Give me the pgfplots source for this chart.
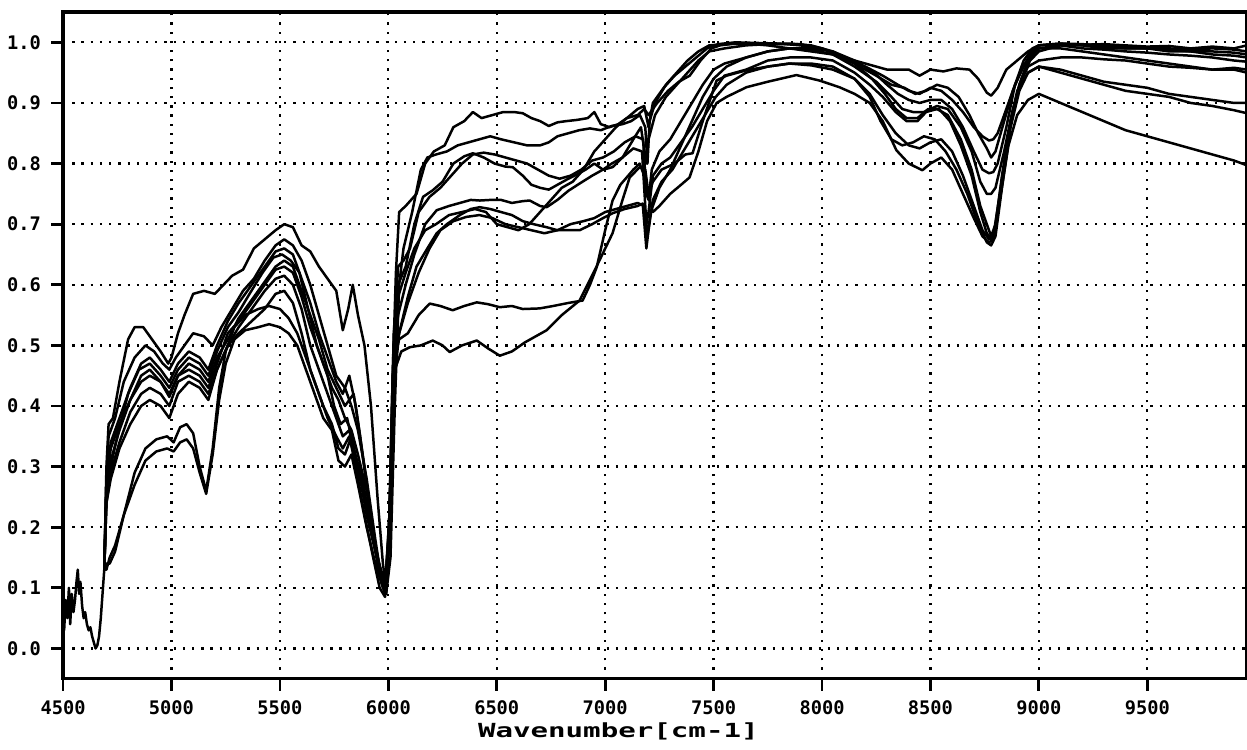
\documentclass[border=0pt]{standalone}
\usepackage{fontspec}
\setmainfont{DejaVu Sans Mono}
\usepackage{graphicx}
\usepackage{pgfplots}
\pgfplotsset{compat=1.18}
\usetikzlibrary{calc}

\begin{document}
\begin{tikzpicture}
\begin{axis}[
    scale only axis,
    width=16.71cm, height=9.41cm,
    xmin=4500, xmax=9960,
    ymin=-0.05, ymax=1.05,
    xtick={4500,5000,...,9500},
    ytick={0,0.1,...,1.0},
    minor tick num=0,
    tick align=outside,
    major tick length=0.17cm,
    tick style={line width=1.1pt, black},
    xtick pos=bottom, ytick pos=left,
    axis line style={line width=1.3pt},
    grid=major,
    major grid style={black, line width=0.9pt, dash pattern=on 0.9pt off 2.8pt},
    /pgf/number format/assume math mode=true,
    ticklabel style={font=\fontsize{7.5}{8}\selectfont\bfseries},
    xticklabel style={yshift=-0.5pt},
    yticklabel style={xshift=-0.5pt},
    xticklabel={\pgfmathprintnumber[fixed,1000 sep={}]{\tick}},
    yticklabel={\pgfmathprintnumber[fixed,fixed zerofill,precision=1]{\tick}},
    scaled ticks=false,
    xlabel={\scalebox{1.5}[1]{\fontsize{7.8}{8}\selectfont\bfseries Wavenumber[cm-1]}},
    xlabel style={at={(rel axis cs:0.469,0)}, anchor=center, yshift=-0.74cm},
    cycle list={{black, solid, mark=none}},
    no markers,
    every axis plot/.append style={line width=1.0pt, line join=round},
]
\coordinate (LL) at (rel axis cs:0,0);
\coordinate (UR) at (rel axis cs:1,1);

% common noisy start
\addplot coordinates {
(4500,0.09)(4505,0.03)(4512,0.08)(4520,0.05)(4527,0.10)(4533,0.04)(4540,0.09)(4548,0.06)
(4555,0.08)(4562,0.11)(4568,0.13)(4574,0.09)(4580,0.11)(4588,0.07)(4595,0.05)(4602,0.06)
(4610,0.04)(4618,0.03)(4626,0.035)(4634,0.02)(4642,0.01)(4650,0.0)(4658,0.005)(4666,0.02)
(4674,0.05)(4682,0.09)(4690,0.13)
};

% c1
\addplot coordinates {
(4690,0.13)(4700,0.30)(4710,0.37)(4730,0.38)(4760,0.44)(4800,0.51)(4830,0.53)(4870,0.53)(4910,0.51)(4950,0.49)(4985,0.47)(5000,0.48)(5030,0.52)(5060,0.55)(5100,0.585)(5150,0.59)(5200,0.585)(5240,0.60)(5280,0.615)(5330,0.625)(5380,0.66)(5430,0.675)(5480,0.69)(5520,0.70)(5560,0.695)(5600,0.665)(5640,0.655)(5680,0.63)(5720,0.61)(5760,0.59)(5790,0.525)(5815,0.56)(5836,0.60)(5860,0.55)(5890,0.50)(5920,0.40)(5950,0.25)(5975,0.14)(5990,0.10)(6005,0.2)(6020,0.45)(6035,0.62)(6050,0.72)(6080,0.73)(6130,0.75)(6170,0.80)(6210,0.82)(6260,0.83)(6300,0.86)(6350,0.87)(6390,0.885)(6430,0.875)(6480,0.88)(6530,0.885)(6580,0.885)(6620,0.883)(6660,0.875)(6700,0.870)(6740,0.862)(6780,0.868)(6820,0.870)(6870,0.872)(6920,0.875)(6950,0.885)(6980,0.865)(7020,0.86)(7060,0.865)(7100,0.875)(7150,0.88)(7180,0.89)(7200,0.88)(7240,0.90)(7290,0.92)(7340,0.935)(7390,0.945)(7440,0.97)(7490,0.99)(7530,0.995)(7600,0.998)(7700,0.998)(7800,0.997)(7900,0.997)(8000,0.99)(8100,0.975)(8200,0.965)(8300,0.955)(8400,0.955)(8450,0.945)(8500,0.955)(8560,0.952)(8620,0.957)(8680,0.955)(8720,0.940)(8760,0.917)(8780,0.912)(8810,0.925)(8850,0.955)(8900,0.97)(8950,0.985)(9000,0.995)(9100,0.997)(9200,0.996)(9300,0.997)(9400,0.995)(9500,0.993)(9600,0.994)(9700,0.99)(9800,0.993)(9900,0.99)(9960,0.995)
};

% c2
\addplot coordinates {
(4690,0.13)(4700,0.28)(4710,0.35)(4740,0.38)(4780,0.44)(4830,0.48)(4880,0.50)(4920,0.49)(4960,0.47)(4990,0.46)(5020,0.48)(5060,0.50)(5100,0.52)(5150,0.515)(5190,0.50)(5230,0.53)(5280,0.56)(5330,0.59)(5380,0.61)(5430,0.64)(5480,0.665)(5520,0.675)(5560,0.665)(5600,0.64)(5640,0.60)(5680,0.55)(5720,0.50)(5760,0.45)(5800,0.43)(5830,0.40)(5860,0.36)(5900,0.28)(5940,0.18)(5970,0.11)(5990,0.09)(6010,0.15)(6030,0.40)(6050,0.60)(6070,0.66)(6110,0.72)(6150,0.79)(6180,0.81)(6220,0.815)(6270,0.82)(6320,0.83)(6370,0.835)(6420,0.84)(6470,0.845)(6520,0.84)(6580,0.835)(6640,0.83)(6700,0.83)(6740,0.835)(6780,0.845)(6830,0.85)(6880,0.855)(6930,0.858)(6980,0.855)(7030,0.862)(7080,0.865)(7120,0.87)(7160,0.88)(7185,0.86)(7195,0.80)(7205,0.87)(7230,0.90)(7280,0.93)(7330,0.95)(7380,0.97)(7430,0.985)(7480,0.995)(7550,0.997)(7650,0.998)(7750,0.995)(7850,0.99)(7950,0.985)(8050,0.98)(8150,0.965)(8250,0.945)(8320,0.93)(8380,0.925)(8430,0.915)(8480,0.92)(8530,0.93)(8580,0.925)(8630,0.91)(8680,0.88)(8720,0.85)(8760,0.825)(8780,0.81)(8800,0.82)(8840,0.87)(8880,0.92)(8920,0.955)(8960,0.98)(9000,0.99)(9100,0.99)(9200,0.985)(9300,0.98)(9400,0.975)(9500,0.97)(9600,0.965)(9700,0.96)(9800,0.955)(9900,0.958)(9960,0.955)
};

% c3
\addplot coordinates {
(4690,0.13)(4700,0.25)(4720,0.30)(4750,0.35)(4800,0.42)(4850,0.46)(4900,0.47)(4950,0.45)(4990,0.43)(5030,0.46)(5080,0.48)(5130,0.47)(5170,0.45)(5210,0.49)(5260,0.53)(5310,0.555)(5360,0.585)(5420,0.62)(5470,0.645)(5510,0.65)(5550,0.64)(5590,0.62)(5630,0.56)(5670,0.50)(5700,0.47)(5740,0.43)(5770,0.41)(5800,0.38)(5830,0.36)(5860,0.32)(5900,0.26)(5940,0.17)(5970,0.12)(5985,0.11)(6005,0.20)(6025,0.50)(6045,0.63)(6070,0.64)(6100,0.66)(6140,0.72)(6190,0.745)(6240,0.76)(6290,0.78)(6340,0.80)(6390,0.815)(6440,0.818)(6490,0.815)(6540,0.81)(6590,0.805)(6640,0.80)(6690,0.79)(6740,0.78)(6790,0.775)(6840,0.78)(6890,0.79)(6940,0.805)(6990,0.81)(7040,0.82)(7090,0.835)(7140,0.845)(7175,0.84)(7190,0.75)(7200,0.74)(7215,0.79)(7250,0.82)(7300,0.84)(7350,0.87)(7400,0.9)(7450,0.93)(7500,0.955)(7550,0.965)(7650,0.975)(7750,0.985)(7850,0.99)(7950,0.988)(8050,0.98)(8150,0.96)(8250,0.935)(8320,0.91)(8370,0.89)(8420,0.885)(8470,0.885)(8530,0.895)(8580,0.89)(8640,0.86)(8690,0.82)(8730,0.77)(8760,0.75)(8780,0.75)(8800,0.76)(8840,0.82)(8880,0.89)(8920,0.94)(8960,0.97)(9000,0.985)(9100,0.995)(9200,0.99)(9300,0.988)(9400,0.985)(9500,0.983)(9600,0.98)(9700,0.978)(9800,0.975)(9900,0.97)(9960,0.968)
};

% c4
\addplot coordinates {
(4690,0.13)(4700,0.26)(4720,0.31)(4760,0.36)(4810,0.41)(4860,0.44)(4900,0.45)(4950,0.44)(4990,0.42)(5030,0.45)(5080,0.46)(5130,0.45)(5170,0.43)(5210,0.47)(5260,0.52)(5310,0.54)(5370,0.57)(5430,0.60)(5480,0.625)(5520,0.63)(5560,0.62)(5600,0.58)(5640,0.53)(5680,0.49)(5720,0.45)(5750,0.40)(5780,0.37)(5810,0.38)(5840,0.33)(5880,0.28)(5920,0.20)(5960,0.13)(5985,0.10)(6005,0.22)(6025,0.52)(6045,0.60)(6080,0.63)(6120,0.70)(6160,0.745)(6205,0.756)(6250,0.77)(6300,0.80)(6350,0.812)(6390,0.817)(6440,0.81)(6490,0.80)(6540,0.795)(6574,0.794)(6620,0.78)(6660,0.765)(6700,0.76)(6740,0.757)(6780,0.765)(6830,0.775)(6870,0.782)(6910,0.79)(6950,0.80)(6990,0.79)(7030,0.80)(7080,0.81)(7130,0.825)(7170,0.82)(7190,0.70)(7200,0.72)(7220,0.78)(7260,0.80)(7300,0.81)(7350,0.835)(7400,0.86)(7450,0.89)(7500,0.92)(7550,0.945)(7650,0.955)(7750,0.97)(7850,0.975)(7950,0.975)(8050,0.97)(8150,0.95)(8220,0.93)(8280,0.91)(8340,0.885)(8390,0.87)(8440,0.87)(8480,0.885)(8530,0.89)(8580,0.88)(8640,0.84)(8690,0.79)(8730,0.73)(8760,0.70)(8780,0.68)(8800,0.70)(8830,0.78)(8870,0.87)(8910,0.93)(8950,0.96)(9000,0.97)(9100,0.975)(9200,0.975)(9300,0.972)(9400,0.97)(9500,0.965)(9600,0.96)(9700,0.958)(9800,0.955)(9900,0.955)(9960,0.95)
};

% c5
\addplot coordinates {
(4690,0.13)(4700,0.24)(4720,0.29)(4760,0.34)(4810,0.39)(4860,0.42)(4900,0.43)(4950,0.42)(4990,0.40)(5030,0.44)(5080,0.45)(5130,0.44)(5170,0.42)(5210,0.46)(5260,0.50)(5310,0.53)(5370,0.56)(5430,0.59)(5480,0.61)(5520,0.615)(5560,0.60)(5600,0.56)(5640,0.50)(5680,0.46)(5720,0.42)(5750,0.39)(5790,0.35)(5820,0.36)(5850,0.31)(5890,0.25)(5930,0.18)(5960,0.12)(5985,0.09)(6005,0.22)(6025,0.45)(6045,0.55)(6080,0.60)(6120,0.65)(6170,0.70)(6223,0.723)(6280,0.73)(6330,0.735)(6380,0.74)(6422,0.739)(6470,0.74)(6520,0.74)(6570,0.735)(6620,0.738)(6652,0.739)(6700,0.73)(6730,0.728)(6780,0.74)(6830,0.755)(6882,0.767)(6940,0.78)(6990,0.79)(7034,0.794)(7080,0.81)(7130,0.84)(7165,0.86)(7190,0.80)(7200,0.84)(7230,0.88)(7280,0.91)(7330,0.93)(7380,0.95)(7430,0.97)(7480,0.985)(7550,0.99)(7650,0.995)(7750,0.997)(7850,0.998)(7950,0.995)(8050,0.985)(8150,0.965)(8230,0.94)(8290,0.915)(8340,0.89)(8390,0.875)(8440,0.875)(8490,0.89)(8540,0.89)(8590,0.87)(8640,0.83)(8690,0.78)(8730,0.72)(8760,0.685)(8780,0.675)(8800,0.69)(8830,0.77)(8870,0.87)(8910,0.93)(8950,0.97)(9000,0.99)(9100,0.995)(9200,0.995)(9300,0.99)(9400,0.99)(9500,0.99)(9600,0.988)(9700,0.985)(9800,0.985)(9900,0.983)(9960,0.98)
};

% c6
\addplot coordinates {
(4690,0.13)(4700,0.24)(4720,0.28)(4760,0.33)(4810,0.37)(4860,0.40)(4900,0.41)(4950,0.40)(4990,0.38)(5030,0.42)(5080,0.44)(5130,0.43)(5170,0.41)(5210,0.46)(5260,0.50)(5310,0.52)(5370,0.54)(5430,0.56)(5480,0.585)(5520,0.59)(5560,0.57)(5600,0.52)(5640,0.46)(5680,0.42)(5720,0.38)(5760,0.35)(5790,0.33)(5820,0.35)(5850,0.30)(5890,0.22)(5930,0.15)(5960,0.10)(5985,0.085)(6005,0.20)(6025,0.48)(6050,0.52)(6090,0.58)(6130,0.63)(6180,0.66)(6223,0.685)(6270,0.70)(6330,0.715)(6380,0.725)(6422,0.728)(6470,0.725)(6520,0.72)(6570,0.715)(6620,0.705)(6670,0.70)(6730,0.695)(6780,0.69)(6830,0.69)(6882,0.69)(6940,0.70)(6990,0.71)(7034,0.718)(7090,0.725)(7150,0.73)(7173,0.734)(7190,0.66)(7200,0.69)(7220,0.74)(7260,0.77)(7310,0.79)(7360,0.82)(7410,0.85)(7460,0.88)(7510,0.91)(7560,0.93)(7650,0.95)(7750,0.96)(7850,0.965)(7950,0.965)(8050,0.96)(8150,0.94)(8220,0.91)(8270,0.87)(8320,0.84)(8370,0.83)(8420,0.835)(8470,0.845)(8520,0.84)(8570,0.82)(8620,0.79)(8670,0.75)(8720,0.70)(8760,0.67)(8780,0.665)(8800,0.68)(8830,0.76)(8870,0.86)(8910,0.92)(8950,0.95)(9000,0.96)(9100,0.955)(9200,0.945)(9300,0.935)(9400,0.93)(9500,0.925)(9600,0.915)(9700,0.91)(9800,0.905)(9900,0.90)(9960,0.90)
};

% c7
\addplot coordinates {
(4690,0.13)(4700,0.14)(4715,0.14)(4740,0.16)(4780,0.22)(4830,0.29)(4880,0.33)(4930,0.345)(4980,0.35)(5010,0.34)(5040,0.365)(5070,0.37)(5100,0.355)(5130,0.30)(5160,0.26)(5190,0.33)(5220,0.43)(5250,0.49)(5290,0.53)(5340,0.55)(5400,0.56)(5450,0.565)(5500,0.56)(5540,0.545)(5580,0.52)(5620,0.48)(5660,0.44)(5700,0.40)(5740,0.37)(5770,0.33)(5800,0.32)(5830,0.35)(5860,0.30)(5900,0.22)(5940,0.16)(5975,0.12)(5990,0.10)(6010,0.25)(6030,0.48)(6050,0.51)(6090,0.52)(6140,0.55)(6191,0.569)(6240,0.565)(6297,0.558)(6350,0.565)(6408,0.571)(6460,0.568)(6514,0.563)(6570,0.565)(6620,0.56)(6698,0.561)(6760,0.565)(6830,0.57)(6896,0.574)(6930,0.60)(6961,0.629)(7000,0.69)(7034,0.739)(7070,0.765)(7099,0.777)(7130,0.79)(7159,0.80)(7180,0.78)(7200,0.745)(7220,0.72)(7250,0.73)(7300,0.75)(7350,0.765)(7389,0.777)(7430,0.82)(7470,0.87)(7514,0.90)(7560,0.91)(7652,0.926)(7750,0.935)(7882,0.946)(7988,0.937)(8080,0.926)(8150,0.915)(8220,0.90)(8280,0.87)(8343,0.822)(8400,0.80)(8463,0.789)(8500,0.80)(8550,0.81)(8600,0.79)(8650,0.75)(8700,0.71)(8740,0.68)(8770,0.67)(8790,0.675)(8820,0.74)(8860,0.83)(8900,0.88)(8950,0.905)(9000,0.915)(9100,0.90)(9200,0.885)(9300,0.87)(9400,0.855)(9500,0.845)(9600,0.835)(9700,0.825)(9800,0.815)(9900,0.805)(9960,0.797)
};

% c8
\addplot coordinates {
(4690,0.13)(4700,0.13)(4715,0.15)(4740,0.17)(4780,0.22)(4830,0.27)(4880,0.31)(4930,0.325)(4980,0.33)(5010,0.325)(5040,0.34)(5070,0.345)(5100,0.33)(5130,0.29)(5160,0.255)(5190,0.32)(5220,0.41)(5250,0.47)(5290,0.51)(5340,0.525)(5400,0.53)(5450,0.535)(5500,0.53)(5540,0.52)(5580,0.50)(5620,0.46)(5660,0.42)(5700,0.38)(5740,0.36)(5770,0.31)(5800,0.30)(5830,0.32)(5860,0.27)(5900,0.20)(5940,0.14)(5975,0.10)(5990,0.09)(6010,0.22)(6030,0.46)(6060,0.49)(6099,0.497)(6150,0.50)(6205,0.508)(6250,0.50)(6283,0.489)(6340,0.50)(6408,0.508)(6460,0.495)(6514,0.483)(6570,0.49)(6630,0.505)(6680,0.515)(6730,0.525)(6800,0.55)(6882,0.574)(6960,0.63)(7034,0.685)(7080,0.74)(7113,0.777)(7159,0.794)(7185,0.79)(7200,0.75)(7220,0.77)(7260,0.79)(7320,0.80)(7370,0.815)(7403,0.817)(7450,0.87)(7514,0.937)(7560,0.945)(7652,0.954)(7750,0.96)(7850,0.965)(7950,0.962)(8050,0.955)(8150,0.94)(8220,0.915)(8280,0.88)(8340,0.85)(8400,0.83)(8450,0.825)(8500,0.835)(8550,0.84)(8600,0.82)(8650,0.78)(8700,0.73)(8740,0.69)(8770,0.675)(8790,0.68)(8820,0.75)(8860,0.85)(8900,0.92)(8950,0.95)(9000,0.96)(9100,0.95)(9200,0.94)(9300,0.93)(9400,0.92)(9500,0.915)(9600,0.91)(9700,0.90)(9800,0.895)(9900,0.888)(9960,0.883)
};

% c9
\addplot coordinates {
(4690,0.13)(4700,0.27)(4720,0.33)(4760,0.37)(4810,0.41)(4860,0.45)(4900,0.46)(4950,0.44)(4990,0.415)(5030,0.45)(5080,0.47)(5130,0.46)(5170,0.44)(5210,0.48)(5260,0.51)(5310,0.545)(5370,0.575)(5430,0.605)(5480,0.63)(5520,0.64)(5560,0.63)(5600,0.59)(5640,0.55)(5680,0.51)(5720,0.46)(5760,0.43)(5800,0.40)(5840,0.42)(5870,0.35)(5910,0.24)(5950,0.15)(5980,0.10)(6000,0.15)(6020,0.45)(6045,0.58)(6080,0.62)(6120,0.66)(6170,0.69)(6220,0.70)(6280,0.715)(6340,0.72)(6400,0.725)(6450,0.72)(6500,0.70)(6550,0.695)(6600,0.69)(6650,0.70)(6700,0.72)(6750,0.74)(6800,0.76)(6850,0.77)(6900,0.79)(6950,0.82)(7000,0.84)(7050,0.86)(7100,0.875)(7150,0.89)(7180,0.895)(7200,0.86)(7220,0.90)(7270,0.925)(7320,0.945)(7370,0.96)(7420,0.975)(7470,0.99)(7520,0.997)(7600,1.0)(7700,0.999)(7800,0.998)(7900,0.995)(8000,0.99)(8100,0.975)(8200,0.96)(8280,0.945)(8350,0.93)(8400,0.92)(8450,0.915)(8500,0.925)(8550,0.92)(8600,0.905)(8650,0.885)(8700,0.86)(8740,0.845)(8770,0.838)(8790,0.84)(8810,0.85)(8850,0.89)(8890,0.93)(8930,0.96)(8970,0.985)(9000,0.995)(9100,0.998)(9200,0.997)(9300,0.995)(9400,0.993)(9500,0.99)(9600,0.99)(9700,0.988)(9800,0.99)(9900,0.988)(9960,0.985)
};

% c10
\addplot coordinates {
(4690,0.13)(4700,0.28)(4720,0.34)(4760,0.38)(4810,0.43)(4860,0.47)(4900,0.48)(4950,0.46)(4990,0.44)(5030,0.47)(5080,0.49)(5130,0.48)(5170,0.46)(5210,0.50)(5260,0.54)(5310,0.57)(5370,0.60)(5430,0.63)(5480,0.655)(5520,0.66)(5560,0.65)(5600,0.61)(5640,0.57)(5680,0.52)(5720,0.48)(5760,0.44)(5790,0.42)(5820,0.45)(5850,0.40)(5890,0.30)(5930,0.19)(5960,0.13)(5985,0.11)(6005,0.18)(6025,0.43)(6050,0.52)(6090,0.57)(6140,0.62)(6190,0.66)(6240,0.69)(6300,0.705)(6360,0.712)(6420,0.715)(6480,0.71)(6540,0.70)(6600,0.695)(6660,0.69)(6720,0.685)(6780,0.69)(6840,0.70)(6900,0.705)(6950,0.71)(7000,0.72)(7050,0.725)(7100,0.73)(7150,0.735)(7180,0.73)(7195,0.68)(7210,0.72)(7250,0.76)(7300,0.79)(7350,0.83)(7400,0.87)(7450,0.91)(7500,0.94)(7560,0.96)(7650,0.975)(7750,0.985)(7850,0.99)(7950,0.99)(8050,0.985)(8150,0.97)(8240,0.95)(8300,0.93)(8350,0.915)(8400,0.905)(8450,0.90)(8500,0.905)(8550,0.905)(8600,0.89)(8650,0.86)(8700,0.82)(8740,0.79)(8770,0.784)(8790,0.786)(8810,0.80)(8850,0.86)(8890,0.93)(8930,0.97)(8970,0.99)(9000,0.995)(9100,0.998)(9200,0.995)(9300,0.993)(9400,0.99)(9500,0.99)(9600,0.985)(9700,0.985)(9800,0.98)(9900,0.978)(9960,0.975)
};
\end{axis}
\pgfresetboundingbox
\path[use as bounding box] ($(LL)+(-0.89cm,-1.0cm)$) rectangle ($(UR)+(0,0.17cm)$);
\end{tikzpicture}
\end{document}
